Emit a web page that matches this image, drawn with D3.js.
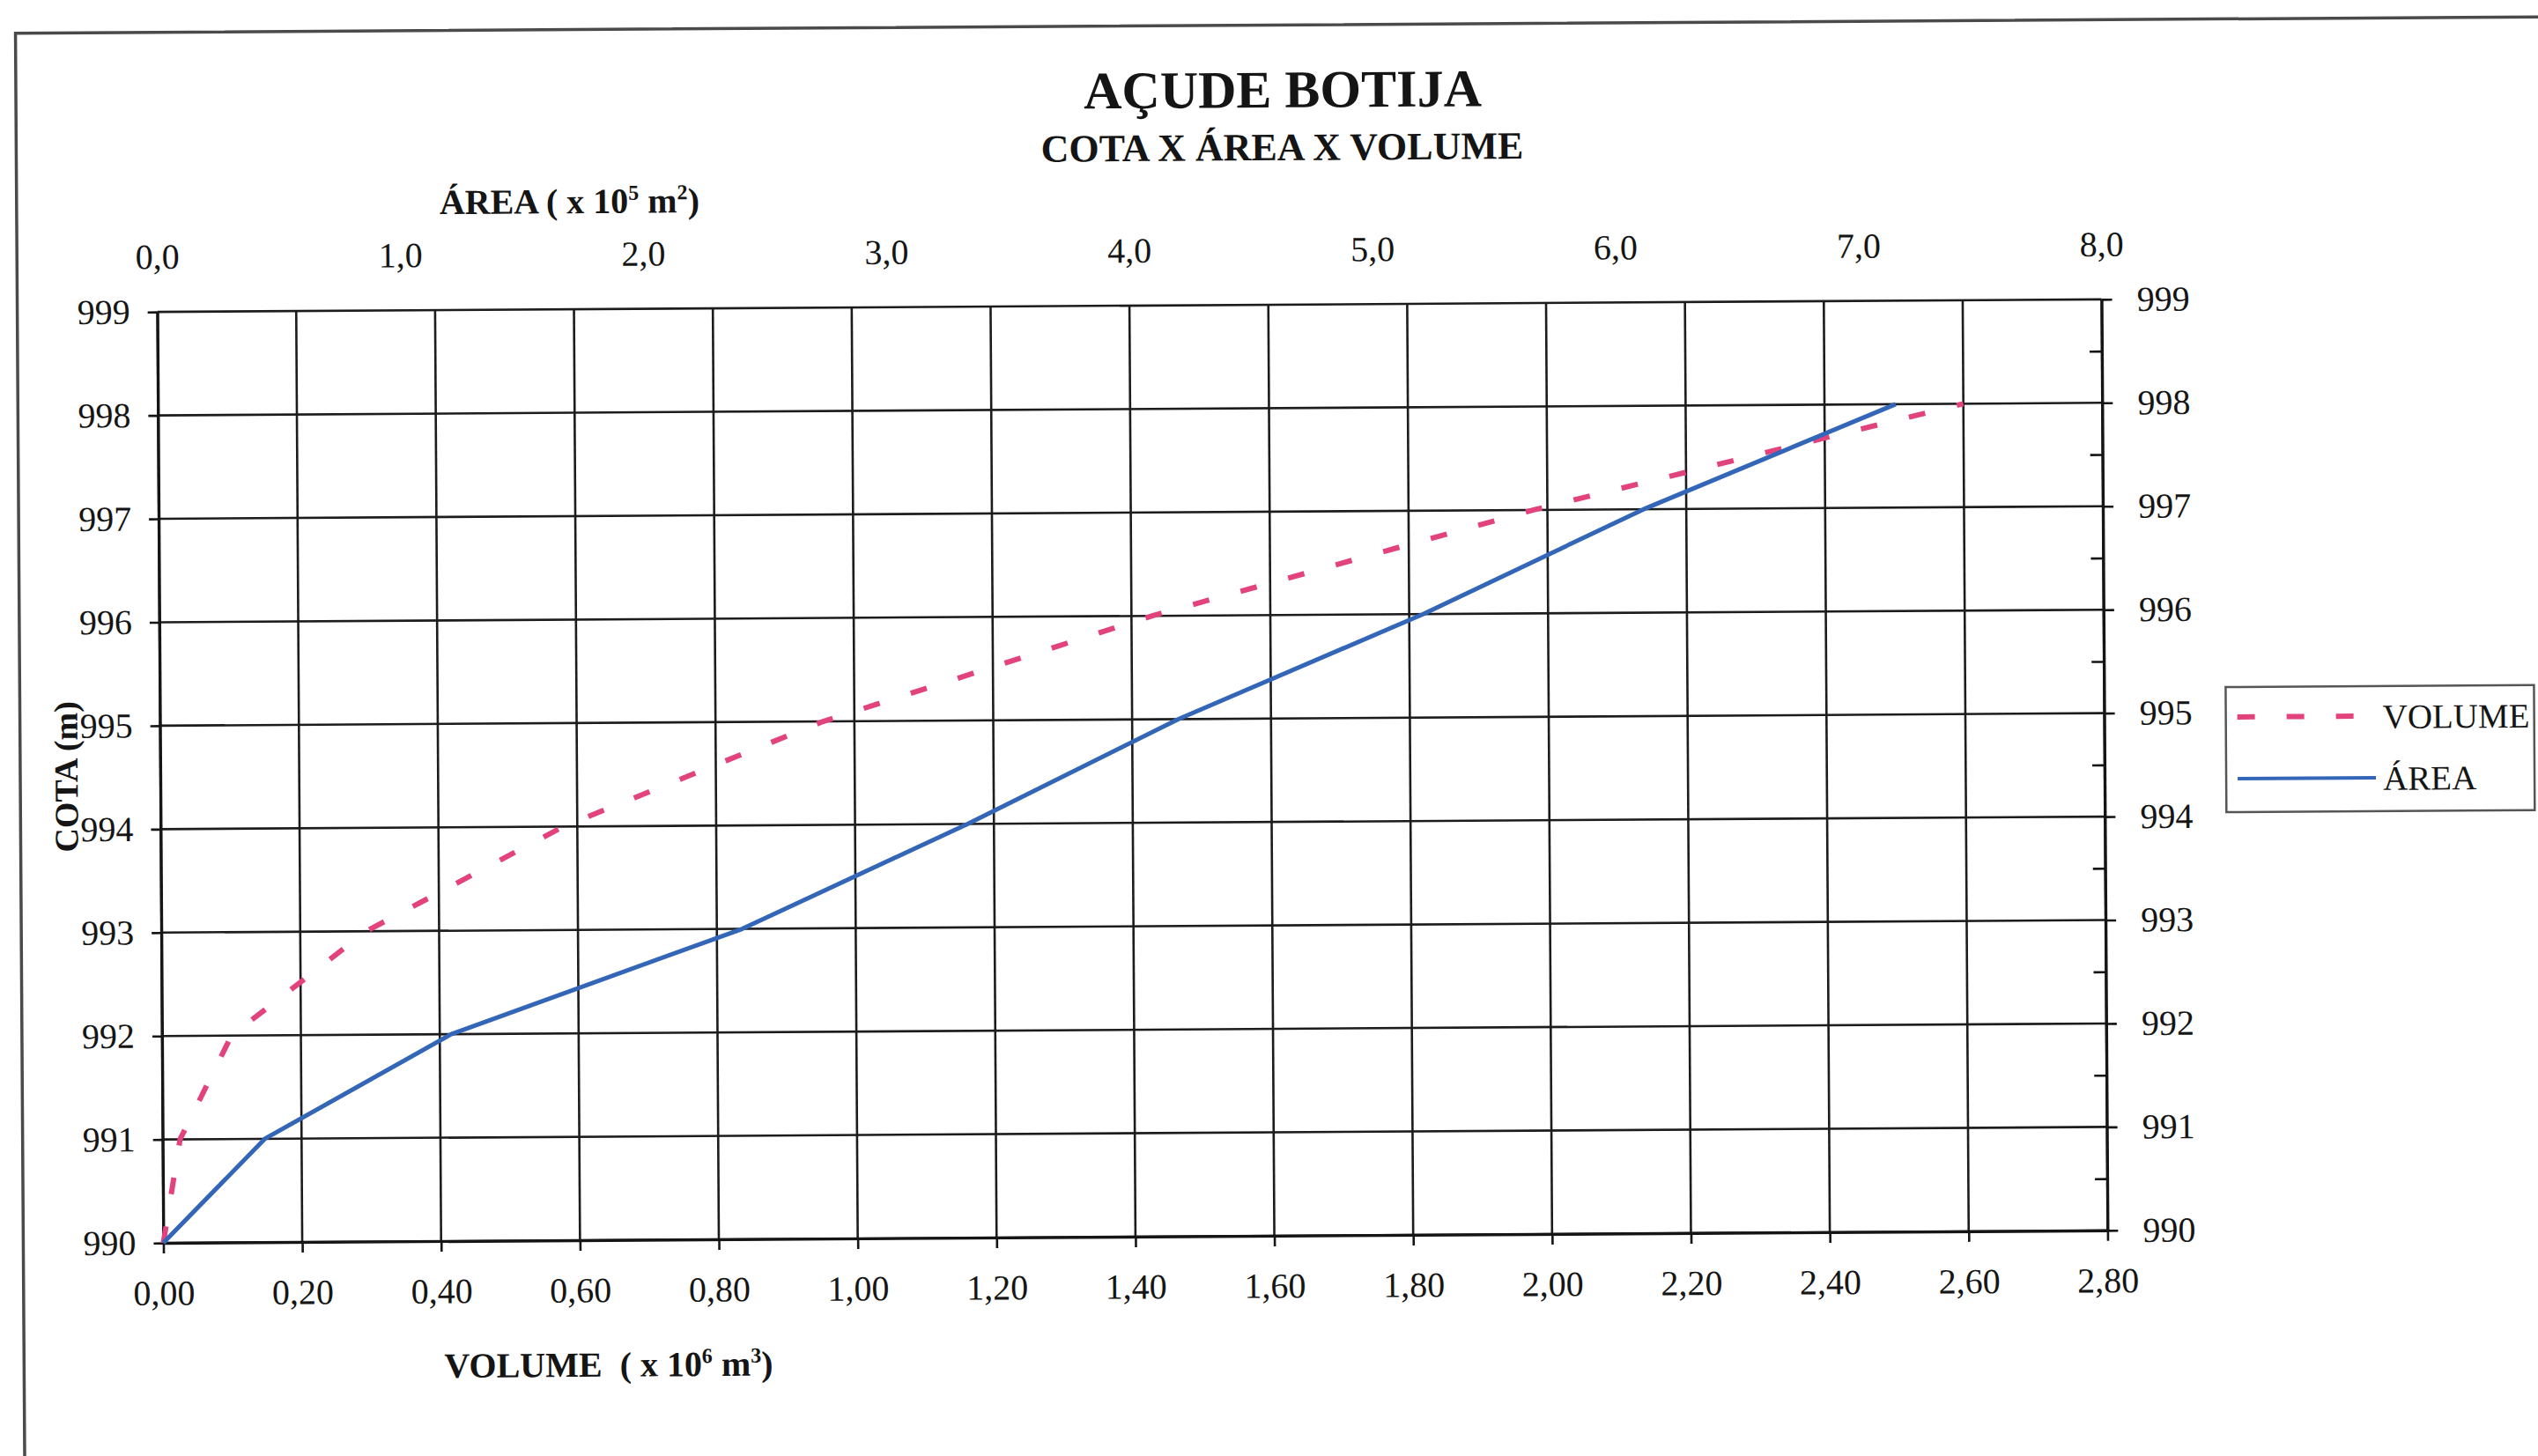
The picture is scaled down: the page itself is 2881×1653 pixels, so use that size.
<!DOCTYPE html>
<html>
<head>
<meta charset="utf-8">
<script src="https://cdn.jsdelivr.net/npm/d3@7"></script>
<style>
  body { margin: 0; background: #fff; }
  text { font-family: "Liberation Serif", "Times New Roman", serif; fill: #151515; }
</style>
</head>
<body>
<div id="grafico"></div>
<script>
// cota (m) x volume (x 10^6 m3) x area (x 10^5 m2)
const cotas = [990, 991, 992, 993, 994, 995, 996, 997, 998];
const volumes = [0.00, 0.025, 0.10, 0.295, 0.58, 0.955, 1.43, 1.98, 2.60];
const areas = [0.00, 0.42, 1.19, 2.39, 3.32, 4.19, 5.20, 6.11, 7.15];

const cotaTicks = [990, 991, 992, 993, 994, 995, 996, 997, 998, 999];
const cotaMinorTicks = [990.5, 991.5, 992.5, 993.5, 994.5, 995.5, 996.5, 997.5, 998.5];
const volumeTicks = [0, 0.2, 0.4, 0.6, 0.8, 1.0, 1.2, 1.4, 1.6, 1.8, 2.0, 2.2, 2.4, 2.6, 2.8];
const areaTicks = [0, 1, 2, 3, 4, 5, 6, 7, 8];
const seriesNames = ["VOLUME", "ÁREA"];

var width = 2881
var height = 1653
// plot box (window.top is reserved, so no plain "top")
var pLeft = 182, pRight = 2389, pTop = 347, pBottom = 1404

var corVolume = "#e2437c"
var corArea = "#3466b8"

var svg = d3.select("#grafico")
  .append("svg")
    .attr("width", width)
    .attr("height", height)
    .style("display", "block")

svg.append("rect").attr("width", width).attr("height", height).attr("fill", "#fff")

// the scanned page is slightly tilted
var g = svg.append("g")
    .attr("transform", "rotate(-0.37, 1285, 875)")

// outer frame
g.append("rect")
  .attr("x", 23).attr("y", 29.5)
  .attr("width", 3000).attr("height", 2000)
  .attr("fill", "none")
  .attr("stroke", "#4a4a4a")
  .attr("stroke-width", 3.5)

var xVol = d3.scaleLinear().domain([0, 2.8]).range([pLeft, pRight])
var xArea = d3.scaleLinear().domain([0, 8]).range([pLeft, pRight])
var y = d3.scaleLinear().domain([990, 999]).range([pBottom, pTop])

var virgula = function(casas) {
  return function(d) { return d3.format("." + casas + "f")(d).replace(".", ","); }
}

// grid
g.append("g").selectAll("line")
  .data(cotaTicks)
  .enter()
  .append("line")
    .attr("x1", pLeft).attr("x2", pRight)
    .attr("y1", d => y(d)).attr("y2", d => y(d))
    .attr("stroke", "#1c1c1c")
    .attr("stroke-width", 2.6)

g.append("g").selectAll("line")
  .data(volumeTicks)
  .enter()
  .append("line")
    .attr("x1", d => xVol(d)).attr("x2", d => xVol(d))
    .attr("y1", pTop).attr("y2", pBottom)
    .attr("stroke", "#1c1c1c")
    .attr("stroke-width", 2.6)

function estilo(ax) {
  ax.select(".domain").attr("stroke", "#151515").attr("stroke-width", 3.2)
  ax.selectAll(".tick line").attr("stroke", "#151515").attr("stroke-width", 2.6)
  ax.selectAll(".tick text")
    .style("font-family", "'Liberation Serif', serif")
    .style("font-size", "40px")
    .attr("fill", "#151515")
}

var eixoEsq = g.append("g")
    .attr("transform", "translate(" + pLeft + ",0)")
    .call(d3.axisLeft(y).tickValues(cotaTicks).tickSize(11).tickPadding(20).tickFormat(d3.format("d")).tickSizeOuter(0))
estilo(eixoEsq)

var eixoDir = g.append("g")
    .attr("transform", "translate(" + pRight + ",0)")
    .call(d3.axisRight(y).tickValues(cotaTicks).tickSize(12).tickPadding(28).tickFormat(d3.format("d")).tickSizeOuter(0))
estilo(eixoDir)

var eixoDirMenor = g.append("g")
    .attr("transform", "translate(" + pRight + ",0)")
    .call(d3.axisRight(y).tickValues(cotaMinorTicks).tickSize(-14).tickFormat(""))
estilo(eixoDirMenor)
eixoDirMenor.select(".domain").remove()

var eixoBaixo = g.append("g")
    .attr("transform", "translate(0," + pBottom + ")")
    .call(d3.axisBottom(xVol).tickValues(volumeTicks).tickSize(12).tickPadding(30).tickFormat(virgula(2)).tickSizeOuter(0))
estilo(eixoBaixo)

var eixoTopo = g.append("g")
    .attr("transform", "translate(0," + pTop + ")")
    .call(d3.axisTop(xArea).tickValues(areaTicks).tickSize(0).tickPadding(49).tickFormat(virgula(1)))
estilo(eixoTopo)
eixoTopo.select(".domain").remove()

// curves
var pontos = cotas.map((c, i) => ({ cota: c, volume: volumes[i], area: areas[i] }))

g.append("path")
  .datum(pontos)
  .attr("fill", "none")
  .attr("stroke", corVolume)
  .attr("stroke-width", 6)
  .attr("stroke-dasharray", "19,37")
  .attr("d", d3.line().x(d => xVol(d.volume)).y(d => y(d.cota)))

g.append("path")
  .datum(pontos)
  .attr("fill", "none")
  .attr("stroke", corArea)
  .attr("stroke-width", 5)
  .attr("stroke-linejoin", "round")
  .attr("d", d3.line().x(d => xArea(d.area)).y(d => y(d.cota)))

// titles
g.append("text")
  .attr("x", 1461).attr("y", 123)
  .attr("text-anchor", "middle")
  .style("font-size", "60px").style("font-weight", "bold")
  .text("AÇUDE BOTIJA")

g.append("text")
  .attr("x", 1460).attr("y", 183)
  .attr("text-anchor", "middle")
  .style("font-size", "44px").style("font-weight", "bold")
  .text("COTA X ÁREA X VOLUME")

var tArea = g.append("text")
  .attr("x", 503).attr("y", 238)
  .style("font-size", "40px").style("font-weight", "bold")
tArea.append("tspan").text("ÁREA ( x 10")
tArea.append("tspan").attr("dy", -15).style("font-size", "24px").text("5")
tArea.append("tspan").attr("dy", 15).text(" m")
tArea.append("tspan").attr("dy", -15).style("font-size", "24px").text("2")
tArea.append("tspan").attr("dy", 15).text(")")

var tVol = g.append("text")
  .attr("x", 500).attr("y", 1559)
  .style("font-size", "40px").style("font-weight", "bold")
  .attr("xml:space", "preserve")
tVol.append("tspan").text("VOLUME  ( x 10")
tVol.append("tspan").attr("dy", -15).style("font-size", "24px").text("6")
tVol.append("tspan").attr("dy", 15).text(" m")
tVol.append("tspan").attr("dy", -15).style("font-size", "24px").text("3")
tVol.append("tspan").attr("dy", 15).text(")")

g.append("text")
  .attr("transform", "translate(88,874) rotate(-90)")
  .attr("text-anchor", "middle")
  .style("font-size", "38px").style("font-weight", "bold")
  .text("COTA (m)")

// legend
var legenda = g.append("g")
legenda.append("rect")
  .attr("x", 2527).attr("y", 788)
  .attr("width", 350).attr("height", 142)
  .attr("fill", "#fff")
  .attr("stroke", "#555")
  .attr("stroke-width", 2.5)

var itens = legenda.selectAll("g.item")
  .data(seriesNames)
  .enter()
  .append("g")
    .attr("class", "item")
    .attr("transform", (d, i) => "translate(0," + (822 + i * 70) + ")")

itens.append("line")
  .attr("x1", 2540).attr("x2", d => d == "VOLUME" ? 2675 : 2697)
  .attr("stroke", d => d == "VOLUME" ? corVolume : corArea)
  .attr("stroke-width", d => d == "VOLUME" ? 6 : 4)
  .attr("stroke-dasharray", d => d == "VOLUME" ? "20,36" : null)

itens.append("text")
  .attr("x", 2705).attr("y", 14)
  .style("font-size", "39px")
  .text(d => d)
</script>
</body>
</html>
